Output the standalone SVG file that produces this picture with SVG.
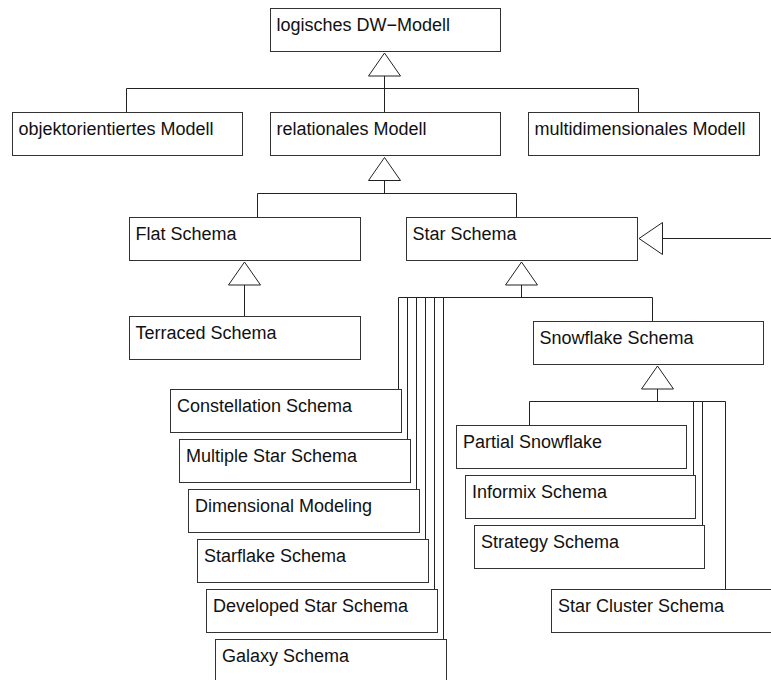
<svg xmlns="http://www.w3.org/2000/svg" width="771" height="680" viewBox="0 0 771 680">
<style>
.box rect{fill:#fff;stroke:#333;stroke-width:1}
.box text{font-family:"Liberation Sans",Arial,Helvetica,sans-serif;font-size:18px;fill:#111}
.con line,.con polyline{fill:none;stroke:#222;stroke-width:1}
.con polygon{fill:#fff;stroke:#222;stroke-width:1}
</style>
<rect width="771" height="680" fill="#fff"/>
<g class="con" id="connectors">
<!-- logisches DW-Modell generalization -->
<line x1="384.5" y1="76" x2="384.5" y2="112.5"/>
<polyline points="126.5,112.5 126.5,88.5 638.5,88.5 638.5,112.5"/>
<polygon points="384.5,53 368.5,76 400.5,76"/>
<!-- relationales Modell -->
<line x1="384.5" y1="180.5" x2="384.5" y2="193.5"/>
<polyline points="257.5,217.5 257.5,193.5 516.5,193.5 516.5,217.5"/>
<polygon points="384.5,157.5 368.5,180.5 400.5,180.5"/>
<!-- Flat Schema -->
<line x1="244.5" y1="285" x2="244.5" y2="316.5"/>
<polygon points="244.5,262 228.5,285 260.5,285"/>
<!-- Star Schema from right -->
<line x1="662.5" y1="238.5" x2="771" y2="238.5"/>
<polygon points="639,238.5 662.5,222.5 662.5,254.5"/>
<!-- Star Schema children -->
<line x1="521.5" y1="285" x2="521.5" y2="297.5"/>
<polyline points="398.5,389.5 398.5,297.5 652.5,297.5 652.5,321.5"/>
<line x1="407.5" y1="297.5" x2="407.5" y2="439.5"/>
<line x1="416.5" y1="297.5" x2="416.5" y2="489.5"/>
<line x1="425.5" y1="297.5" x2="425.5" y2="539.5"/>
<line x1="434.5" y1="297.5" x2="434.5" y2="589.5"/>
<line x1="443.5" y1="297.5" x2="443.5" y2="639.5"/>
<polygon points="521.5,262 505.5,285 537.5,285"/>
<!-- Snowflake children -->
<line x1="657.5" y1="389" x2="657.5" y2="401.5"/>
<polyline points="529.5,425.5 529.5,401.5 725.5,401.5 725.5,589.5"/>
<line x1="693.5" y1="401.5" x2="693.5" y2="475.5"/>
<line x1="702.5" y1="401.5" x2="702.5" y2="525.5"/>
<polygon points="657.5,366 641.5,389 673.5,389"/>
</g>
<g class="box" id="n-logisch"><rect x="270.5" y="8.5" width="230" height="43"/><text x="276.5" y="31">logisches DW−Modell</text></g>
<g class="box" id="n-objekt"><rect x="12.5" y="112.5" width="230" height="43"/><text x="18.5" y="134.5">objektorientiertes Modell</text></g>
<g class="box" id="n-relational"><rect x="270.5" y="112.5" width="230" height="43"/><text x="276.5" y="134.5">relationales Modell</text></g>
<g class="box" id="n-multi"><rect x="528.5" y="112.5" width="231" height="43"/><text x="534.5" y="134.5">multidimensionales Modell</text></g>
<g class="box" id="n-flat"><rect x="129.5" y="217.5" width="231" height="43"/><text x="135.5" y="239.5">Flat Schema</text></g>
<g class="box" id="n-star"><rect x="406.5" y="217.5" width="231" height="43"/><text x="412.5" y="239.5">Star Schema</text></g>
<g class="box" id="n-terraced"><rect x="129.5" y="316.5" width="231" height="43"/><text x="135.5" y="338.5">Terraced Schema</text></g>
<g class="box" id="n-snowflake"><rect x="533.5" y="321.5" width="230" height="43"/><text x="539.5" y="343.5">Snowflake Schema</text></g>
<g class="box" id="n-constellation"><rect x="170.5" y="389.5" width="231" height="43"/><text x="177" y="411.5">Constellation Schema</text></g>
<g class="box" id="n-multiple"><rect x="179.5" y="439.5" width="231" height="43"/><text x="186" y="461.5">Multiple Star Schema</text></g>
<g class="box" id="n-dimensional"><rect x="188.5" y="489.5" width="231" height="43"/><text x="195" y="511.5">Dimensional Modeling</text></g>
<g class="box" id="n-starflake"><rect x="197.5" y="539.5" width="231" height="43"/><text x="204" y="561.5">Starflake Schema</text></g>
<g class="box" id="n-developed"><rect x="206.5" y="589.5" width="231" height="43"/><text x="213" y="611.5">Developed Star Schema</text></g>
<g class="box" id="n-galaxy"><rect x="215.5" y="639.5" width="231" height="43"/><text x="222" y="661.5">Galaxy Schema</text></g>
<g class="box" id="n-partial"><rect x="456.5" y="425.5" width="230" height="43"/><text x="463" y="447.5">Partial Snowflake</text></g>
<g class="box" id="n-informix"><rect x="465.5" y="475.5" width="230" height="43"/><text x="472" y="497.5">Informix Schema</text></g>
<g class="box" id="n-strategy"><rect x="474.5" y="525.5" width="230" height="43"/><text x="481" y="547.5">Strategy Schema</text></g>
<g class="box" id="n-starcluster"><rect x="551.5" y="589.5" width="231" height="43"/><text x="558" y="611.5">Star Cluster Schema</text></g>
</svg>
